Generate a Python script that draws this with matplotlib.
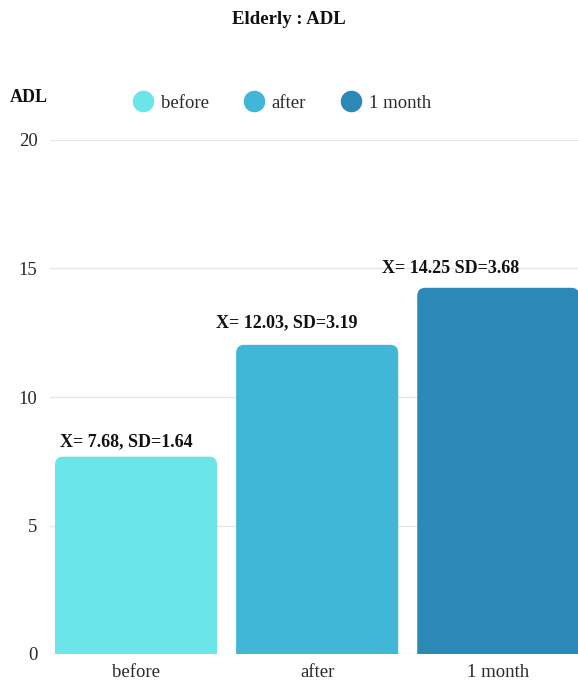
import matplotlib.pyplot as plt
from matplotlib.patches import FancyBboxPatch
from matplotlib.lines import Line2D

# data
groups = ['before', 'after', '1 month']
means = [7.68, 12.03, 14.25]
labels = ['X= 7.68, SD=1.64', 'X= 12.03, SD=3.19', 'X= 14.25 SD=3.68']
colors = ['#6ce5e8', '#41b6d6', '#2b89b8']
yticks = [0, 5, 10, 15, 20]

plt.rcParams['font.family'] = ['Liberation Serif', 'DejaVu Serif']

fig = plt.figure(figsize=(5.78, 6.83), dpi=100)
ax = fig.add_axes([50 / 578, 29 / 683, 528 / 578, 514 / 683])

ax.set_xlim(-0.475, 2.44)
ax.set_ylim(0, 20)

# bars with rounded tops (bottom corners hidden below y=0)
w = 0.895
aspect = 181 / 25.7
for i, (m, c) in enumerate(zip(means, colors)):
    p = FancyBboxPatch((i - w / 2, -2), w, m + 2,
                       boxstyle='round,pad=0,rounding_size=0.045',
                       mutation_aspect=aspect, fc=c, ec='none', zorder=2)
    ax.add_patch(p)

# value labels (hand placed in the original)
offs = [(-10, 15), (-30, 22), (-48, 19)]
for i, (m, t) in enumerate(zip(means, labels)):
    ax.annotate(t, (i, m), xytext=offs[i], textcoords='offset pixels',
                ha='center', va='center', fontsize=13, fontweight='bold',
                color='#111111')

ax.set_yticks(yticks)
ax.set_xticks(range(len(groups)))
ax.set_xticklabels(groups)
ax.grid(axis='y', color='#e6e6e6', lw=1, zorder=0)
ax.set_axisbelow(True)
ax.tick_params(length=0, labelsize=13.5, colors='#2a2a2a')
ax.tick_params(axis='y', pad=9)
ax.tick_params(axis='x', pad=7)
for s in ax.spines.values():
    s.set_visible(False)

fig.text(0.5, 1 - 20 / 683, 'Elderly : ADL', ha='center', va='center',
         fontsize=13.5, fontweight='bold', color='#111111')
fig.text(10 / 578, 1 - 97 / 683, 'ADL', ha='left', va='center',
         fontsize=13, fontweight='bold', color='#111111')

handles = [Line2D([], [], ls='none', marker='o', ms=14.5, mfc=c, mec=c)
           for c in colors]
fig.legend(handles, groups, loc='center', ncol=3,
           bbox_to_anchor=(282 / 578, 1 - 103 / 683), frameon=False,
           fontsize=13.5, handlelength=1.0, handletextpad=0.45,
           columnspacing=1.9, labelcolor='#2a2a2a')

fig.savefig('out.png', dpi=100, facecolor='white')
